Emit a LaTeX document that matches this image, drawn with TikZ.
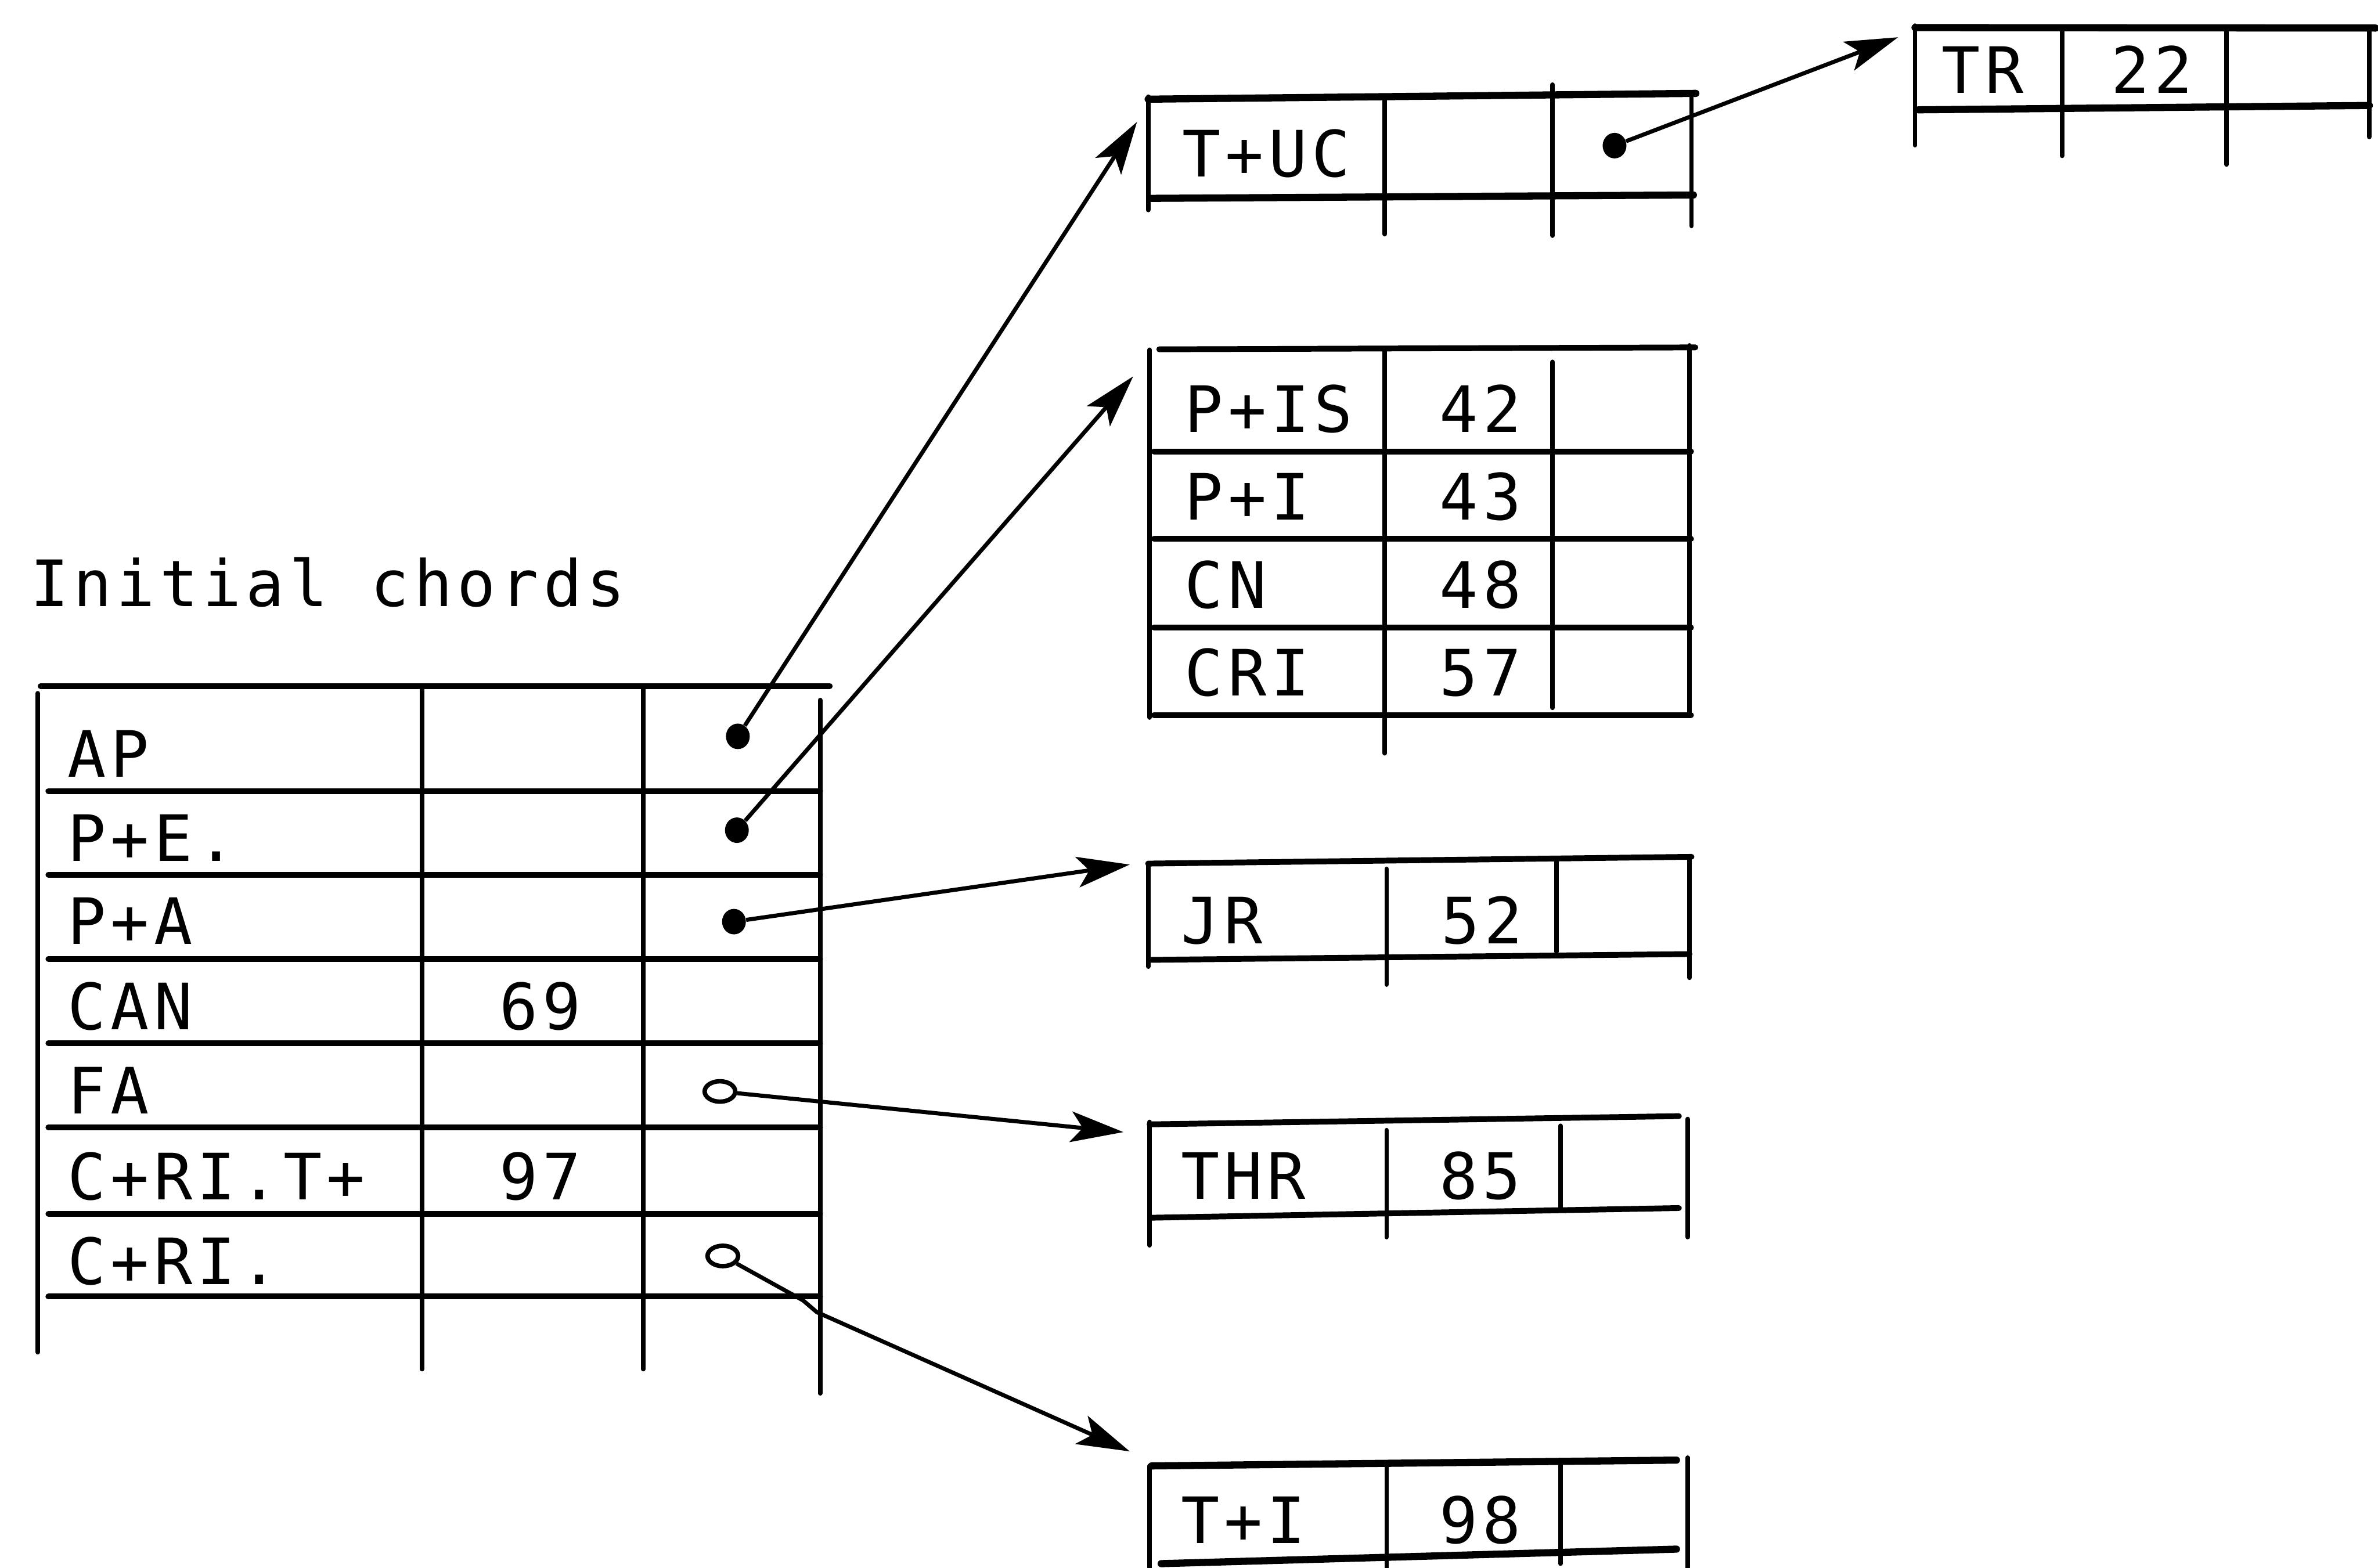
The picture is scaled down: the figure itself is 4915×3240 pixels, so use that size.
\documentclass[tikz,border=0pt]{standalone}
\usepackage{fontspec}
\newfontfamily\plotfont{DejaVu Sans Mono}[LetterSpace=7.3]
\usetikzlibrary{arrows.meta,shapes.geometric}
\begin{document}
\begin{tikzpicture}[x=0.1mm,y=-0.1mm,
  hrule/.style={line width=3.4pt,line cap=round},
  heavyrule/.style={line width=4.2pt,line cap=round},
  vrule/.style={line width=2.7pt,line cap=round},
  lbl/.style={anchor=base west,inner sep=0pt,font=\plotfont\fontsize{37.6}{40}\selectfont},
  fulldot/.style={ellipse,fill,inner sep=0pt,minimum width=14pt,minimum height=15pt},
  opendot/.style={ellipse,draw,line width=2.6pt,fill=white,inner sep=0pt,minimum width=18pt,minimum height=12pt},
  conn/.style={line width=2.4pt,-{Stealth[length=31pt,width=18pt,inset=7pt]}}]
\path[use as bounding box] (0,0) rectangle (4915,3240);

% heading
\node[lbl] (title) at (62,1253) {Initial chords};

% ---- initial chords table
\draw[hrule] (84,1418) -- (1715,1418);
\foreach \y in {1635,1808,1982,2156,2330,2509,2680} \draw[hrule] (100,\y) -- (1695,\y);
\draw[vrule] (78,1433) -- (78,2795);
\draw[vrule] (872,1423) -- (872,2830);
\draw[vrule] (1330,1423) -- (1330,2830);
\draw[vrule] (1695,1447) -- (1695,2880);
\node[lbl] (ap)   at (139,1606) {AP};
\node[lbl] (pe)   at (139,1780) {P+E.};
\node[lbl] (pa)   at (139,1952) {P+A};
\node[lbl] (can)  at (139,2128) {CAN};
\node[lbl] (can2) at (1032,2128) {69};
\node[lbl] (fa)   at (139,2302) {FA};
\node[lbl] (crit) at (139,2480) {C+RI.T+};
\node[lbl] (crit2) at (1032,2480) {97};
\node[lbl] (cri)  at (139,2655) {C+RI.};
\node[fulldot] (dap)  at (1525,1522) {};
\node[fulldot] (dpe)  at (1523,1716) {};
\node[fulldot] (dpa)  at (1517,1905) {};
\node[opendot] (dfa)  at (1488,2256) {};
\node[opendot] (dcri) at (1494,2596) {};

% ---- T+UC
\draw[heavyrule] (2373,205) -- (3505,193);
\draw[heavyrule] (2380,410) -- (3500,403);
\draw[vrule] (2373,200) -- (2373,434);
\draw[vrule] (2862,205) -- (2862,484);
\draw[vrule] (3209,175) -- (3209,487);
\draw[vrule] (3496,196) -- (3496,467);
\node[lbl] (tuc) at (2443,365) {T+UC};
\node[fulldot] (dtuc) at (3337,301) {};

% ---- TR
\draw[heavyrule] (3958,57) -- (4910,58);
\draw[heavyrule] (3965,227) -- (4897,218);
\draw[vrule] (3958,53) -- (3958,300);
\draw[vrule] (4262,57) -- (4262,322);
\draw[vrule] (4602,60) -- (4602,340);
\draw[vrule] (4897,57) -- (4897,283);
\node[lbl] (tr)  at (4013,193) {TR};
\node[lbl] (tr2) at (4363,193) {22};

% ---- P+IS block
\draw[hrule] (2396,722) -- (3504,718);
\foreach \y in {933,1114,1297,1478} \draw[hrule] (2385,\y) -- (3495,\y);
\draw[vrule] (2376,723) -- (2376,1483);
\draw[vrule] (2862,725) -- (2862,1557);
\draw[vrule] (3209,748) -- (3209,1463);
\draw[vrule] (3492,714) -- (3492,1475);
\node[lbl] (pis)  at (2448,893) {P+IS};
\node[lbl] (pis2) at (2975,893) {42};
\node[lbl] (pi)   at (2448,1074) {P+I};
\node[lbl] (pi2)  at (2975,1074) {43};
\node[lbl] (cn)   at (2448,1257) {CN};
\node[lbl] (cn2)  at (2975,1257) {48};
\node[lbl] (cri3) at (2448,1438) {CRI};
\node[lbl] (cri4) at (2975,1438) {57};

% ---- JR
\draw[hrule] (2373,1785) -- (3496,1771);
\draw[hrule] (2380,1984) -- (3492,1972);
\draw[vrule] (2373,1785) -- (2373,1998);
\draw[vrule] (2866,1796) -- (2866,2035);
\draw[vrule] (3217,1779) -- (3217,1967);
\draw[vrule] (3492,1774) -- (3492,2021);
\node[lbl] (jr)  at (2440,1950) {JR};
\node[lbl] (jr2) at (2978,1950) {52};

% ---- THR
\draw[hrule] (2376,2324) -- (3470,2307);
\draw[hrule] (2380,2517) -- (3470,2497);
\draw[vrule] (2376,2319) -- (2376,2574);
\draw[vrule] (2866,2336) -- (2866,2557);
\draw[vrule] (3225,2327) -- (3225,2495);
\draw[vrule] (3488,2313) -- (3488,2557);
\node[lbl] (thr)  at (2440,2478) {THR};
\node[lbl] (thr2) at (2974,2478) {85};

% ---- T+I
\draw[heavyrule] (2380,3030) -- (3465,3018);
\draw[heavyrule] (2400,3232) -- (3465,3202);
\draw[vrule] (2376,3030) -- (2376,3240);
\draw[vrule] (2866,3030) -- (2866,3240);
\draw[vrule] (3225,3027) -- (3225,3232);
\draw[vrule] (3488,3013) -- (3488,3240);
\node[lbl] (ti)  at (2440,3190) {T+I};
\node[lbl] (ti2) at (2974,3190) {98};

% ---- pointers
\coordinate (tipa) at (2350,252);
\coordinate (tipb) at (2342,778);
\coordinate (tipc) at (2335,1787);
\coordinate (tipd) at (2322,2340);
\coordinate (bend1) at (1660,2688);
\coordinate (bend2) at (1688,2712);
\coordinate (tipe) at (2335,3000);
\coordinate (tipf) at (3923,77);
\draw[conn] (dap) -- (tipa);
\draw[conn] (dpe) -- (tipb);
\draw[conn] (dpa) -- (tipc);
\draw[conn] (dfa) -- (tipd);
\draw[conn] (dcri) -- (bend1) -- (bend2) -- (tipe);
\draw[conn] (dtuc) -- (tipf);
\end{tikzpicture}
\end{document}
